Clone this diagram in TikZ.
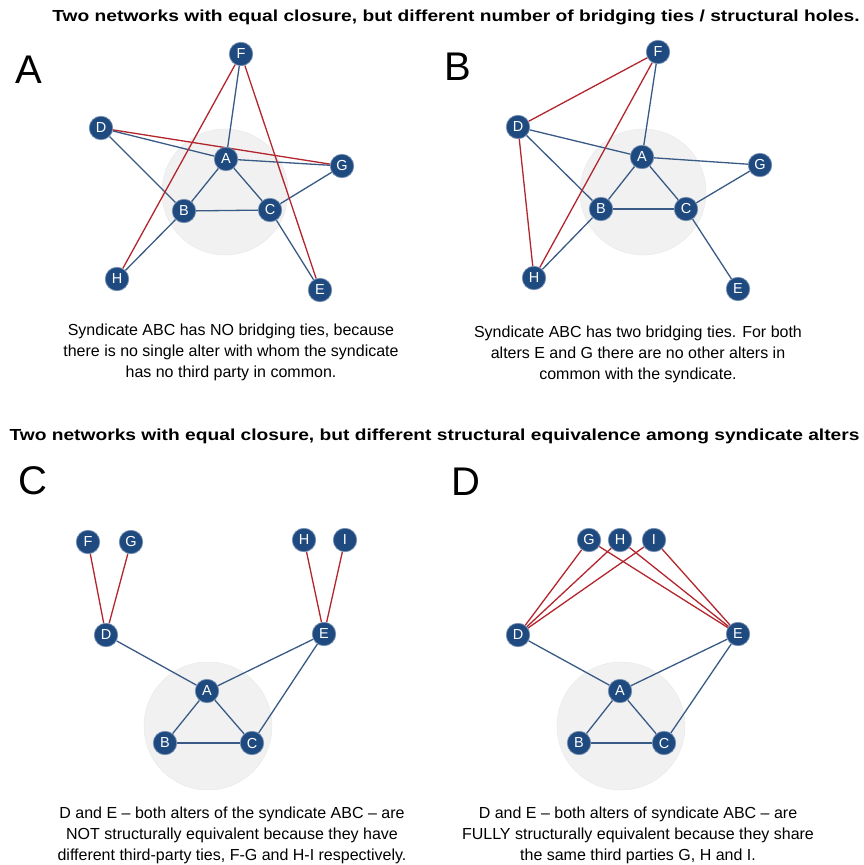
\documentclass[tikz,border=0pt]{standalone}
\usepackage{fontspec}
\setmainfont{Liberation Sans}
\newfontfamily\headfont[FakeStretch=1.2]{Liberation Sans}
\definecolor{nodeblue}{HTML}{1F4A80}
\definecolor{edgeblue}{HTML}{3A5A86}
\definecolor{edgered}{HTML}{B3262D}
\definecolor{syncirc}{HTML}{F1F1F1}
\pgfdeclarelayer{paper}
\pgfdeclarelayer{bgcirc}
\pgfdeclarelayer{bgedge}
\pgfsetlayers{paper,bgcirc,bgedge,main}
\tikzset{
  actor/.style={circle,fill=nodeblue,draw=nodeblue!60!white,line width=0.7pt,minimum size=23.5pt,inner sep=0pt,text=white,font=\fontsize{14.5}{14.5}\selectfont},
  tieb/.style={draw=edgeblue,line width=1.3pt},
  tier/.style={draw=edgered,line width=1.3pt},
  syn/.style={fill=syncirc,draw=black!9},
  panel/.style={font=\fontsize{40}{40}\selectfont},
  headline/.style={font=\headfont\fontsize{16}{16}\selectfont\bfseries},
  caption/.style={align=center,font=\fontsize{16}{21}\selectfont}
}
\begin{document}
\begin{tikzpicture}[x=1pt,y=-1pt]
\begin{pgfonlayer}{paper}
\fill[white] (0,0) rectangle (864,865);
\end{pgfonlayer}
\useasboundingbox (0,0) rectangle (864,865);
% titles
\node[headline] (t1) at (456,17) {Two networks with equal closure, but different number of bridging ties / structural holes.};
\node[headline,anchor=west] (t2) at (6,436) {Two networks with equal closure, but different structural equivalence among syndicate alters};
% panel letters
\node[panel] (lA) at (29,70) {A};
\node[panel] (lB) at (458,67) {B};
\node[panel] (lC) at (33,481) {C};
\node[panel] (lD) at (466,482) {D};
% syndicate circles
\begin{pgfonlayer}{bgcirc}
\fill[syn] (225,192) circle[radius=63];
\fill[syn] (643,192) circle[radius=63];
\fill[syn] (208,726) circle[radius=64];
\fill[syn] (621,726) circle[radius=64];
\end{pgfonlayer}
% ---------- Panel A ----------
\node[actor] (aF) at (241,54) {F};
\node[actor] (aD) at (101,128) {D};
\node[actor] (aA) at (226,159) {A};
\node[actor] (aG) at (342,166) {G};
\node[actor] (aB) at (184,211) {B};
\node[actor] (aC) at (270,210) {C};
\node[actor] (aH) at (117,279) {H};
\node[actor] (aE) at (320,290) {E};
\begin{pgfonlayer}{bgedge}
\draw[tieb] (aF) -- (aA);
\draw[tieb] (aD) -- (aA);
\draw[tieb] (aD) -- (aB);
\draw[tieb] (aA) -- (aG);
\draw[tieb] (aA) -- (aB);
\draw[tieb] (aA) -- (aC);
\draw[tieb] (aB) -- (aC);
\draw[tieb] (aC) -- (aG);
\draw[tieb] (aB) -- (aH);
\draw[tieb] (aC) -- (aE);
\draw[tier] (aF) -- (aH);
\draw[tier] (aF) -- (aE);
\draw[tier] (aD) -- (aG);
\end{pgfonlayer}
\node[caption] (capA) at (231,352) {Syndicate ABC has NO bridging ties, because\\there is no single alter with whom the syndicate\\has no third party in common.};
% ---------- Panel B ----------
\node[actor] (bF) at (658,52) {F};
\node[actor] (bD) at (518,127) {D};
\node[actor] (bA) at (642,157) {A};
\node[actor] (bG) at (760,165) {G};
\node[actor] (bB) at (601,209) {B};
\node[actor] (bC) at (686,209) {C};
\node[actor] (bH) at (534,278) {H};
\node[actor] (bE) at (738,289) {E};
\begin{pgfonlayer}{bgedge}
\draw[tieb] (bF) -- (bA);
\draw[tieb] (bD) -- (bA);
\draw[tieb] (bD) -- (bB);
\draw[tieb] (bA) -- (bG);
\draw[tieb] (bA) -- (bB);
\draw[tieb] (bA) -- (bC);
\draw[tieb] (bB) -- (bC);
\draw[tieb] (bC) -- (bG);
\draw[tieb] (bB) -- (bH);
\draw[tieb] (bC) -- (bE);
\draw[tier] (bD) -- (bF);
\draw[tier] (bD) -- (bH);
\draw[tier] (bF) -- (bH);
\end{pgfonlayer}
\node[caption] (capB) at (638,354) {Syndicate ABC has two bridging ties. For both\\alters E and G there are no other alters in\\common with the syndicate.};
% ---------- Panel C ----------
\node[actor] (cF) at (88,542) {F};
\node[actor] (cG) at (131,542) {G};
\node[actor] (cH) at (304,540) {H};
\node[actor] (cI) at (345,540) {I};
\node[actor] (cD) at (106,635) {D};
\node[actor] (cE) at (324,634) {E};
\node[actor] (cA) at (207,691) {A};
\node[actor] (cB) at (165,743) {B};
\node[actor] (cC) at (252,743) {C};
\begin{pgfonlayer}{bgedge}
\draw[tier] (cF) -- (cD);
\draw[tier] (cG) -- (cD);
\draw[tier] (cH) -- (cE);
\draw[tier] (cI) -- (cE);
\draw[tieb] (cD) -- (cA);
\draw[tieb] (cA) -- (cE);
\draw[tieb] (cE) -- (cC);
\draw[tieb] (cA) -- (cB);
\draw[tieb] (cA) -- (cC);
\draw[tieb] (cB) -- (cC);
\end{pgfonlayer}
\node[caption] (capC) at (232,835) {D and E -- both alters of the syndicate ABC -- are\\NOT structurally equivalent because they have\\different third-party ties, F-G and H-I respectively.};
% ---------- Panel D ----------
\node[actor] (dG) at (589,540) {G};
\node[actor] (dH) at (620,540) {H};
\node[actor] (dI) at (654,540) {I};
\node[actor] (dD) at (518,635) {D};
\node[actor] (dE) at (738,634) {E};
\node[actor] (dA) at (620,691) {A};
\node[actor] (dB) at (579,743) {B};
\node[actor] (dC) at (664,743) {C};
\begin{pgfonlayer}{bgedge}
\draw[tier] (dG) -- (dD);
\draw[tier] (dH) -- (dD);
\draw[tier] (dI) -- (dD);
\draw[tier] (dG) -- (dE);
\draw[tier] (dH) -- (dE);
\draw[tier] (dI) -- (dE);
\draw[tieb] (dD) -- (dA);
\draw[tieb] (dA) -- (dE);
\draw[tieb] (dE) -- (dC);
\draw[tieb] (dA) -- (dB);
\draw[tieb] (dA) -- (dC);
\draw[tieb] (dB) -- (dC);
\end{pgfonlayer}
\node[caption] (capD) at (638,835) {D and E -- both alters of syndicate ABC -- are\\FULLY structurally equivalent because they share\\the same third parties G, H and I.};
\end{tikzpicture}
\end{document}
